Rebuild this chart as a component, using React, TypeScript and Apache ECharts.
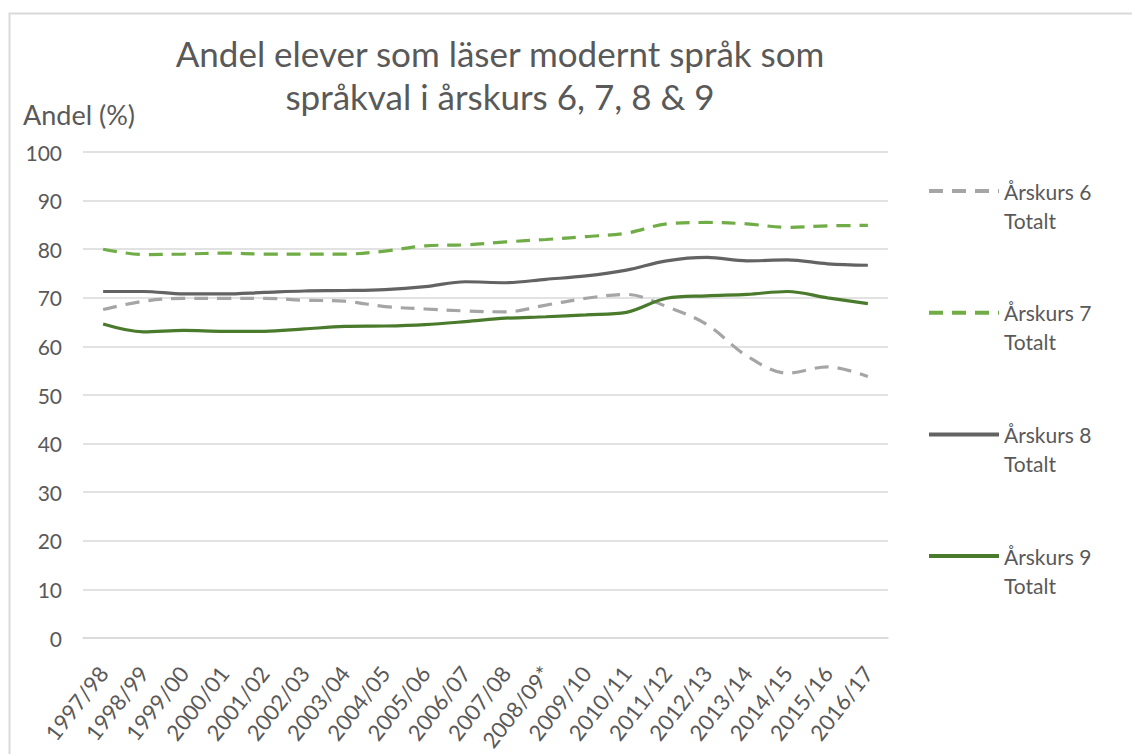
import React, { useEffect, useRef } from "react";
import * as echarts from "echarts";

const categories = ['1997/98','1998/99','1999/00','2000/01','2001/02','2002/03','2003/04','2004/05','2005/06','2006/07','2007/08','2008/09*','2009/10','2010/11','2011/12','2012/13','2013/14','2014/15','2015/16','2016/17'];
const ak6 = [67.6, 69.3, 69.9, 69.9, 69.9, 69.5, 69.3, 68.2, 67.7, 67.3, 67.1, 68.5, 69.9, 70.7, 68.2, 64.5, 58.0, 54.5, 55.8, 53.8];
const ak7 = [80.0, 78.9, 79.0, 79.2, 79.0, 79.0, 79.0, 79.6, 80.7, 80.9, 81.5, 82.0, 82.6, 83.3, 85.2, 85.5, 85.2, 84.5, 84.8, 84.9];
const ak8 = [71.3, 71.3, 70.8, 70.8, 71.1, 71.4, 71.5, 71.7, 72.3, 73.3, 73.1, 73.8, 74.5, 75.7, 77.6, 78.3, 77.6, 77.8, 77.0, 76.7];
const ak9 = [64.6, 63.0, 63.3, 63.1, 63.1, 63.6, 64.1, 64.2, 64.5, 65.1, 65.8, 66.1, 66.5, 67.0, 69.9, 70.4, 70.7, 71.3, 70.0, 68.8];
const seriesNames = ['Årskurs 6', 'Årskurs 7', 'Årskurs 8', 'Årskurs 9'];
const titleText = 'Andel elever som läser modernt språk som\nspråkval i årskurs 6, 7, 8 & 9';
const yAxisTitle = 'Andel (%)';

const FONT = 'Lato, "Open Sans", sans-serif';
const TXT = '#595959';

export default function App() {
  const ref = useRef<HTMLDivElement>(null);
  useEffect(() => {
    const chart = echarts.init(ref.current!, null, { renderer: 'svg' });
    const mk = (name: string, data: number[], color: string, dashed: boolean) => ({
      name,
      type: 'line',
      data,
      smooth: 0.35,
      symbol: 'none',
      lineStyle: { color, width: 3.2, type: dashed ? [14, 9] : 'solid', cap: 'butt' },
      itemStyle: { color },
    });
    chart.setOption({
      animation: false,
      backgroundColor: '#fff',
      textStyle: { fontFamily: FONT },
      title: {
        text: titleText,
        left: 495,
        top: 26,
        textAlign: 'center',
        textStyle: { fontFamily: FONT, fontSize: 35, fontWeight: 'normal', color: TXT, lineHeight: 43 },
      },
      graphic: [
        { type: 'rect', shape: { x: 9.5, y: 13.5, width: 1300, height: 900 }, style: { fill: 'none', stroke: '#D9D9D9', lineWidth: 2 }, silent: true },
        { type: 'text', left: 23, top: 101, style: { text: yAxisTitle, fontFamily: FONT, fontSize: 27, fill: TXT } },
      ],
      legend: {
        orient: 'vertical',
        left: 922,
        top: 142.5,
        itemWidth: 70,
        itemHeight: 14,
        itemGap: 34.7,
        data: seriesNames,
        itemStyle: { opacity: 0, borderWidth: 0 },
        lineStyle: { width: 4 },
        formatter: (n: string) => ' \n' + n + '\nTotalt',
        textStyle: { fontFamily: FONT, fontSize: 21, color: TXT, lineHeight: 29 },
      },
      grid: { left: 83, right: 244, top: 152, bottom: 116, containLabel: false },
      xAxis: {
        type: 'category',
        data: categories,
        boundaryGap: true,
        axisLine: { lineStyle: { color: '#D9D9D9', width: 1.5 } },
        axisTick: { show: false },
        axisLabel: { rotate: 52, fontSize: 22, color: TXT, margin: 31, interval: 0, fontFamily: FONT },
      },
      yAxis: {
        type: 'value',
        min: 0,
        max: 100,
        interval: 10,
        axisLine: { show: false },
        axisTick: { show: false },
        axisLabel: { fontSize: 21, color: TXT, margin: 21, fontFamily: FONT },
        splitLine: { lineStyle: { color: '#D9D9D9', width: 1.5 } },
      },
      series: [
        mk(seriesNames[0], ak6, '#A5A5A5', true),
        mk(seriesNames[1], ak7, '#70AD47', true),
        mk(seriesNames[2], ak8, '#636363', false),
        mk(seriesNames[3], ak9, '#4A7A2C', false),
      ],
    });
    return () => chart.dispose();
  }, []);
  return <div ref={ref} style={{ position: 'fixed', left: 0, top: 0, width: 1132, height: 754 }} />;
}
